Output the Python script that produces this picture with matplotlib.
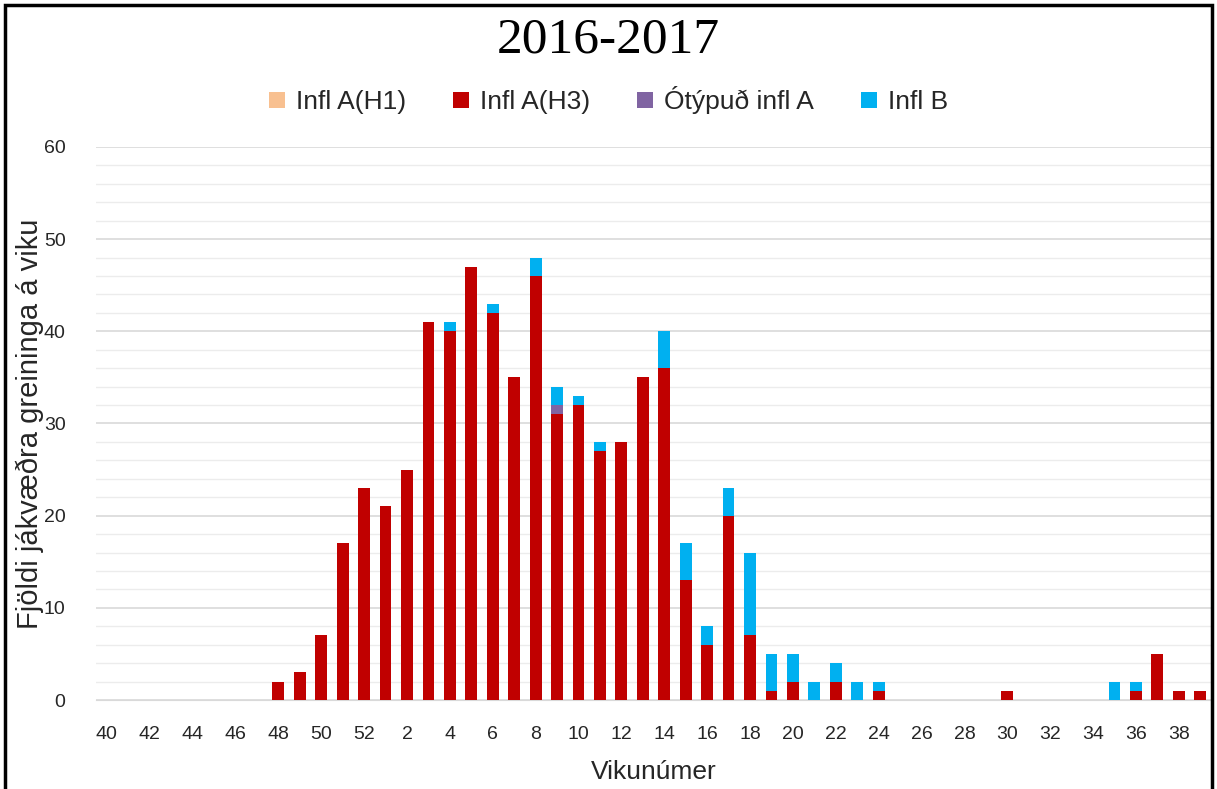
import matplotlib
matplotlib.use("Agg")
import matplotlib.pyplot as plt
from matplotlib.patches import Rectangle
import numpy as np

# week numbers for the season, week 40 (2016) to week 39 (2017)
weeks = list(range(40, 53)) + list(range(1, 40))

h1 = [0] * 52
h3 = [0, 0, 0, 0, 0, 0, 0, 0, 2, 3, 7, 17, 23,
      21, 25, 41, 40, 47, 42, 35, 46, 31, 32, 27, 28, 35, 36,
      13, 6, 20, 7, 1, 2, 0, 2, 0, 1, 0, 0, 0, 0, 0, 1,
      0, 0, 0, 0, 0, 1, 5, 1, 1]
untyped = [0] * 52
untyped[weeks.index(9)] = 1
infl_b = [0, 0, 0, 0, 0, 0, 0, 0, 0, 0, 0, 0, 0,
          0, 0, 0, 1, 0, 1, 0, 2, 2, 1, 1, 0, 0, 4,
          4, 2, 3, 9, 4, 3, 2, 2, 2, 1, 0, 0, 0, 0, 0, 0,
          0, 0, 0, 0, 2, 1, 0, 0, 0]

labels = ["Infl A(H1)", "Infl A(H3)", "Ótýpuð infl A", "Infl B"]
colors = ["#f8c090", "#c00000", "#8064a2", "#00b0f0"]

plt.rcParams['font.family'] = ['Liberation Sans', 'DejaVu Sans']
txt_col = "#262626"

fig = plt.figure(figsize=(12.17, 7.89), dpi=100)
ax = fig.add_axes([0.079, 0.1128, 0.916, 0.701])

x = np.arange(len(weeks))
bottom = np.zeros(len(weeks))
for vals, lab, col in zip([h1, h3, untyped, infl_b], labels, colors):
    vals = np.array(vals, dtype=float)
    ax.bar(x, vals, 0.55, bottom=bottom, color=col, label=lab, zorder=3)
    bottom += vals

ax.set_xlim(-0.5, len(weeks) - 0.5)
ax.set_ylim(0, 60)
ax.set_yticks(range(0, 61, 10))
ax.set_yticks(range(0, 61, 2), minor=True)
ax.set_xticks(x[::2])
ax.set_xticklabels([str(w) for w in weeks[::2]])
ax.tick_params(axis='both', length=0, labelsize=14, colors=txt_col)
ax.tick_params(axis='y', which='minor', length=0)
ax.tick_params(axis='x', pad=19)
ax.tick_params(axis='y', pad=22)
ax.grid(axis='y', which='major', color="#d9d9d9", linewidth=1.2, zorder=0)
ax.grid(axis='y', which='minor', color="#ececec", linewidth=1, zorder=0)
for s in ['top', 'right', 'left']:
    ax.spines[s].set_visible(False)
ax.spines['bottom'].set_color("#d9d9d9")

ax.set_xlabel("Vikunúmer", fontsize=19, color=txt_col, labelpad=12)
ax.set_ylabel("Fjöldi jákvæðra greininga á viku", fontsize=21, color=txt_col, labelpad=0)

fig.text(0.5, 0.949, "2016-2017", ha='center', va='center', fontsize=37,
         family=['Liberation Serif', 'DejaVu Serif'], color="#000000")
fig.legend(loc='center', bbox_to_anchor=(0.5, 0.873), ncol=4, frameon=False,
           fontsize=19, handlelength=0.6, handleheight=0.6, handletextpad=0.4,
           columnspacing=1.8, labelcolor=txt_col)

fig.patches.append(Rectangle((0.004, -0.01), 0.992, 1.004, transform=fig.transFigure,
                             fill=False, edgecolor="black", linewidth=2.5))

fig.savefig("out.png", dpi=100)
